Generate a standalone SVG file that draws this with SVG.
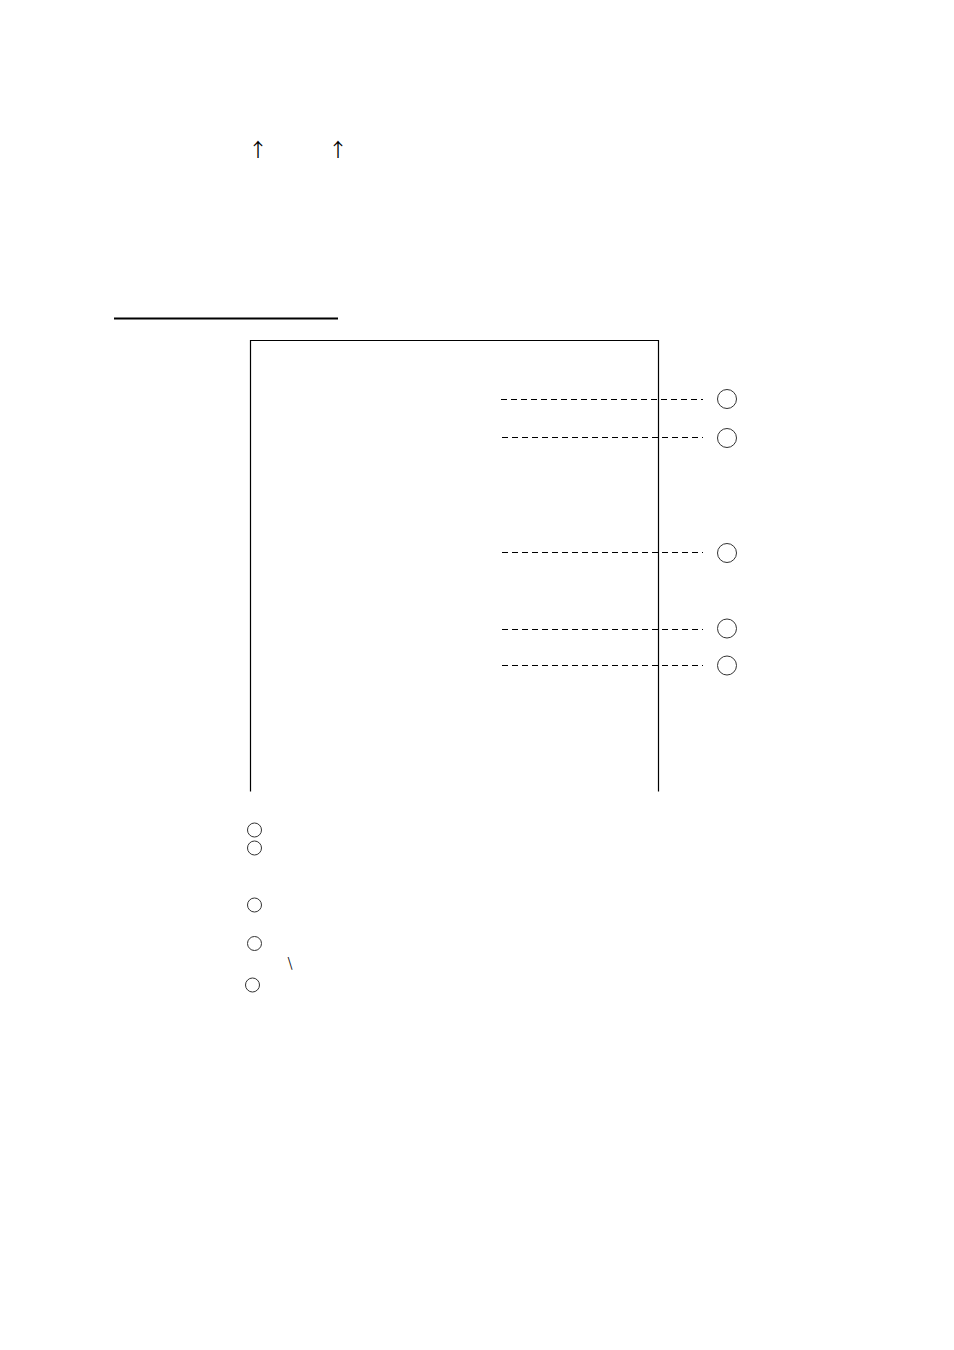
<svg xmlns="http://www.w3.org/2000/svg" width="954" height="1350" viewBox="0 0 954 1350">
<style>
.t{font-family:"Noto Sans CJK JP","DejaVu Sans",sans-serif;fill:#000}
.c{fill:none;stroke:#333;stroke-width:1}
.d{stroke:#000;stroke-width:1;stroke-dasharray:6 4;fill:none}
</style>
<rect width="954" height="1350" fill="#fff"/>
<g id="arrows-text">
<text class="t" x="258" y="157" font-size="19" text-anchor="middle">↑</text>
<text class="t" x="338" y="157" font-size="19" text-anchor="middle">↑</text>
</g>
<line id="underline" x1="114" y1="318.5" x2="338" y2="318.5" stroke="#000" stroke-width="2"/>
<path id="frame" d="M250.5 791.5 V340.5 H658.5 V791.5" fill="none" stroke="#000" stroke-width="1.2"/>
<g id="connectors">
<line class="d" x1="501" y1="399.5" x2="703" y2="399.5"/>
<line class="d" x1="502" y1="437.5" x2="703" y2="437.5"/>
<line class="d" x1="502" y1="552.5" x2="703" y2="552.5"/>
<line class="d" x1="502" y1="629.5" x2="703" y2="629.5"/>
<line class="d" x1="502" y1="665.5" x2="703" y2="665.5"/>
</g>
<g id="callouts-right">
<circle class="c" cx="727" cy="399" r="9.5"/>
<circle class="c" cx="727" cy="438" r="9.5"/>
<circle class="c" cx="727" cy="553" r="9.5"/>
<circle class="c" cx="727" cy="628.5" r="9.5"/>
<circle class="c" cx="727" cy="665.5" r="9.5"/>
</g>
<g id="callouts-left">
<circle class="c" cx="254.5" cy="830" r="7"/>
<circle class="c" cx="254.5" cy="848" r="7"/>
<circle class="c" cx="254.5" cy="905" r="7"/>
<circle class="c" cx="254.5" cy="943.5" r="7"/>
<circle class="c" cx="252.5" cy="985" r="7"/>
<text class="t" x="290" y="967" font-size="13" text-anchor="middle">\</text>
</g>
</svg>
